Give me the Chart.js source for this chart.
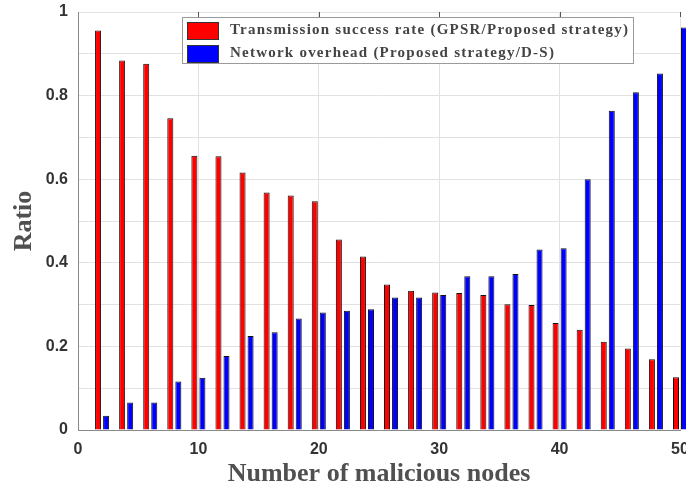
<!DOCTYPE html>
<html>
<head>
<meta charset="utf-8">
<script src="https://cdn.jsdelivr.net/npm/chart.js@4"></script>
<style>
  html, body { margin: 0; padding: 0; background: #fff; }
  #wrap { width: 686px; height: 490px; }
</style>
</head>
<body>
<div id="wrap"><canvas id="ratio-chart" width="686" height="490"></canvas></div>
<script>
const maliciousNodes = [2, 4, 6, 8, 10, 12, 14, 16, 18, 20, 22, 24, 26, 28, 30, 32, 34, 36, 38, 40, 42, 44, 46, 48, 50];
const successRatio = [0.956, 0.884, 0.876, 0.746, 0.656, 0.655, 0.616, 0.568, 0.561, 0.547, 0.456, 0.415, 0.348, 0.333, 0.329, 0.328, 0.323, 0.301, 0.299, 0.256, 0.240, 0.211, 0.195, 0.169, 0.126];
const overheadRatio = [0.034, 0.066, 0.066, 0.116, 0.125, 0.177, 0.225, 0.234, 0.267, 0.281, 0.285, 0.289, 0.317, 0.317, 0.323, 0.368, 0.368, 0.373, 0.432, 0.435, 0.600, 0.764, 0.808, 0.853, 0.963];
const seriesNames = ["Transmission success rate (GPSR/Proposed strategy)", "Network overhead (Proposed strategy/D-S)"];
const xTitle = "Number of malicious nodes";
const yTitle = "Ratio";

const tickFont = { family: "'Liberation Sans', Arial, sans-serif", size: 16, weight: "bold" };
const titleFont = { family: "'Liberation Serif', 'Times New Roman', serif", size: 26, weight: "bold" };

// legend box drawn inside the plot, MATLAB style
const boxLegend = {
  id: "boxLegend",
  afterDatasetsDraw(chart) {
    const { ctx, chartArea } = chart;
    const x = chartArea.left + 104, y = chartArea.top + 5, w = 451, h = 46;
    ctx.save();
    ctx.fillStyle = "#fff";
    ctx.fillRect(x, y, w, h);
    ctx.strokeStyle = "#9a9a9a";
    ctx.lineWidth = 1;
    ctx.strokeRect(x + 0.5, y + 0.5, w, h);
    ctx.font = "bold 15px 'Liberation Serif', 'Times New Roman', serif";
    const natural = ctx.measureText(chart.data.datasets[0].label).width;
    const spacing = Math.max(0, (398 - natural) / (chart.data.datasets[0].label.length - 1));
    ctx.letterSpacing = spacing.toFixed(2) + "px";
    ctx.textBaseline = "middle";
    chart.data.datasets.forEach((ds, i) => {
      const rowY = y + 13 + i * 23;
      ctx.fillStyle = ds.backgroundColor;
      ctx.fillRect(x + 5, rowY - 8, 31, 17);
      ctx.strokeStyle = "#333";
      ctx.strokeRect(x + 5.5, rowY - 7.5, 31, 17);
      ctx.fillStyle = "#444";
      ctx.fillText(ds.label, x + 48, rowY);
    });
    ctx.restore();
  }
};

// small inward tick marks along the top edge
const topTicks = {
  id: "topTicks",
  afterDraw(chart) {
    const { ctx, chartArea, scales } = chart;
    ctx.save();
    ctx.strokeStyle = "#555";
    ctx.lineWidth = 1;
    scales.x.ticks.forEach(t => {
      const px = Math.round(scales.x.getPixelForValue(t.value)) + 0.5;
      if (px <= chartArea.left + 1) return;
      ctx.beginPath();
      ctx.moveTo(px, chartArea.top);
      ctx.lineTo(px, chartArea.top + 5);
      ctx.stroke();
    });
    ctx.restore();
  }
};

new Chart(document.getElementById("ratio-chart"), {
  type: "bar",
  data: {
    datasets: [
      { label: seriesNames[0], data: maliciousNodes.map((n, i) => ({ x: n, y: successRatio[i] })), backgroundColor: "#ff0000", borderColor: "#111", borderWidth: 1, clip: false },
      { label: seriesNames[1], data: maliciousNodes.map((n, i) => ({ x: n, y: overheadRatio[i] })), backgroundColor: "#0000ff", borderColor: "#111", borderWidth: 1, clip: false },
    ]
  },
  options: {
    responsive: false,
    animation: false,
    categoryPercentage: 0.667,
    barPercentage: 0.75,
    layout: { padding: { top: 12, right: 6, left: 0, bottom: 0 } },
    plugins: { legend: { display: false }, tooltip: { enabled: false } },
    scales: {
      x: {
        type: "linear", min: 0, max: 50, offset: false,
        grid: { color: "#e2e2e2", drawTicks: false, offset: false },
        border: { color: "#8a8a8a" },
        ticks: { stepSize: 10, font: tickFont, color: "#333", padding: 10, maxRotation: 0 },
        title: { display: true, text: xTitle, font: titleFont, color: "#505050", padding: { top: 0, bottom: 0 } },
        afterFit(s) { s.height = 60; s.paddingLeft = 0; s.paddingRight = 0; }
      },
      y: {
        min: 0, max: 1,
        grid: { color: "#e2e2e2", drawTicks: false },
        border: { color: "#8a8a8a" },
        ticks: {
          stepSize: 0.1, font: tickFont, color: "#333", padding: 10,
          callback: v => { const k = Math.round(v * 10); return k % 2 === 0 ? String(k / 10) : ""; }
        },
        title: { display: true, text: yTitle, font: titleFont, color: "#505050", padding: { top: 9, bottom: 0 } },
        afterFit(s) { s.width = 78; s.paddingTop = 0; s.paddingBottom = 0; }
      }
    }
  },
  plugins: [boxLegend, topTicks]
});
</script>
</body>
</html>
